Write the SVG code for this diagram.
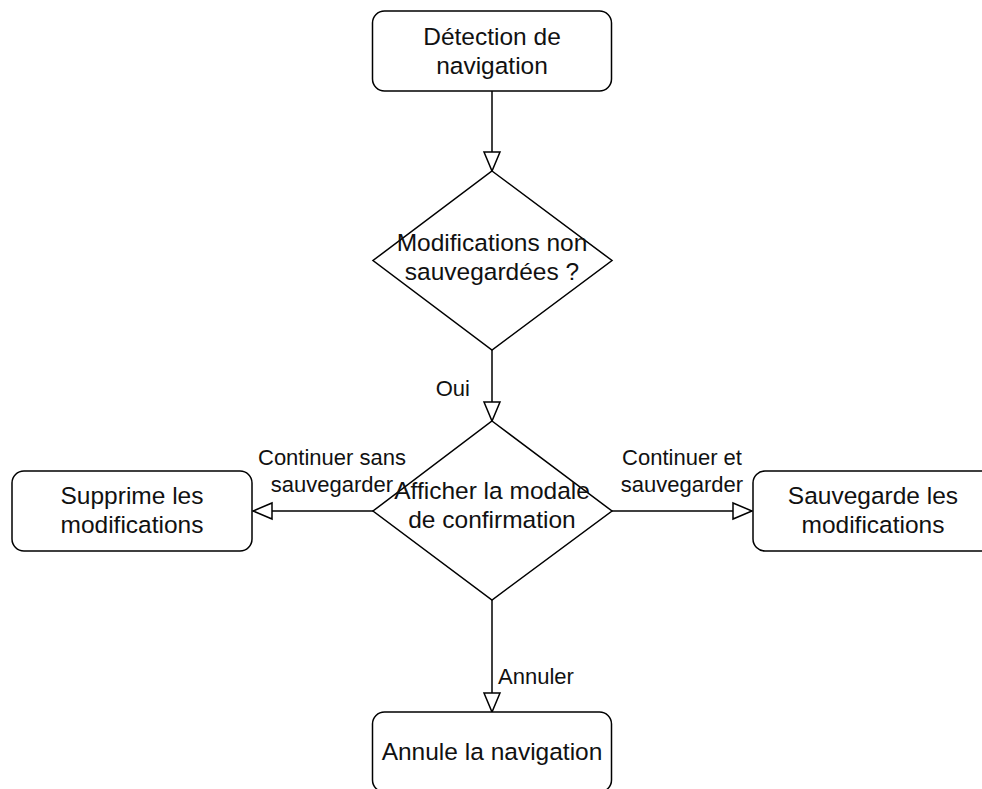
<svg xmlns="http://www.w3.org/2000/svg" width="982" height="789" viewBox="0 0 982 789">
<style>
.shape{fill:#fff;stroke:#000;stroke-width:1.5}
.edge{fill:none;stroke:#000;stroke-width:1.5}
.t{font-family:"Liberation Sans",Arial,sans-serif;font-size:24.5px;fill:#111;text-anchor:middle}
.l{font-family:"Liberation Sans",Arial,sans-serif;font-size:22px;fill:#111}
</style>
<defs>
<marker id="arr" markerUnits="userSpaceOnUse" markerWidth="22" markerHeight="20" refX="19" refY="8.5" orient="auto" overflow="visible">
<path d="M0,0.5 L19,8.5 L0,16.5 Z" fill="#fff" stroke="#000" stroke-width="1.5"/>
</marker>
</defs>
<rect width="982" height="789" fill="#fff"/>
<g id="edges">
<path class="edge" d="M492,91 L492,171" marker-end="url(#arr)"/>
<path class="edge" d="M492,350 L492,421" marker-end="url(#arr)"/>
<text class="l" x="470" y="396" text-anchor="end">Oui</text>
<path class="edge" d="M373,511 L253,511" marker-end="url(#arr)"/>
<text class="l" x="332" y="465" text-anchor="middle">Continuer sans</text>
<text class="l" x="332" y="492" text-anchor="middle">sauvegarder</text>
<path class="edge" d="M612,511 L752,511" marker-end="url(#arr)"/>
<text class="l" x="682" y="465" text-anchor="middle">Continuer et</text>
<text class="l" x="682" y="492" text-anchor="middle">sauvegarder</text>
<path class="edge" d="M492,600 L492,712" marker-end="url(#arr)"/>
<text class="l" x="498" y="684">Annuler</text>
</g>
<g id="detection">
<rect class="shape" x="372.5" y="11" width="239" height="80" rx="12"/>
<text class="t" x="492" y="45">Détection de</text>
<text class="t" x="492" y="74">navigation</text>
</g>
<g id="modifications">
<path class="shape" d="M492,171 L612,260.5 L492,350 L373,260.5 Z"/>
<text class="t" x="492" y="251">Modifications non</text>
<text class="t" x="492" y="280">sauvegardées ?</text>
</g>
<g id="modale">
<path class="shape" d="M492,421 L612,511 L492,600 L373,511 Z"/>
<text class="t" x="492" y="499">Afficher la modale</text>
<text class="t" x="492" y="528">de confirmation</text>
</g>
<g id="supprime">
<rect class="shape" x="12" y="471" width="240" height="80" rx="12"/>
<text class="t" x="132" y="504">Supprime les</text>
<text class="t" x="132" y="533">modifications</text>
</g>
<g id="sauvegarde">
<rect class="shape" x="753" y="471" width="240" height="80" rx="12"/>
<text class="t" x="873" y="504">Sauvegarde les</text>
<text class="t" x="873" y="533">modifications</text>
</g>
<g id="annule">
<rect class="shape" x="372.5" y="712" width="239" height="80" rx="12"/>
<text class="t" x="492" y="760">Annule la navigation</text>
</g>
</svg>
